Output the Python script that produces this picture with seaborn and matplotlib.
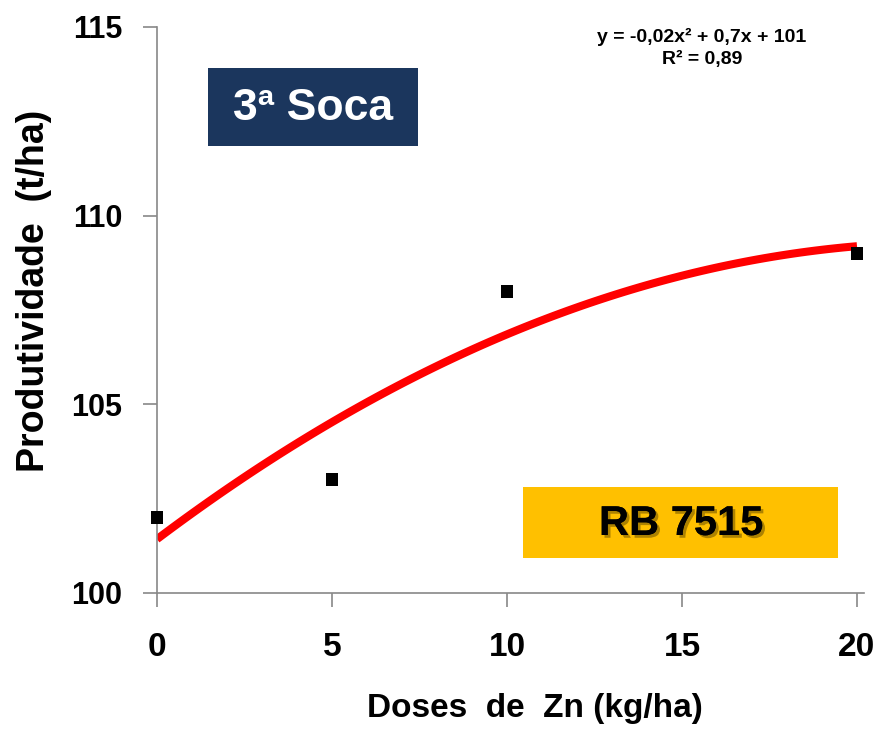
import matplotlib
matplotlib.use("Agg")
import matplotlib.pyplot as plt
import matplotlib.patheffects as pe
import pandas as pd
import seaborn as sns

# Zinc doses and sugarcane yield, 3rd ratoon, variety RB 7515
doses = [0, 5, 10, 20]
produtividade = [102, 103, 108, 109]
x_ticks = [0, 5, 10, 15, 20]
y_ticks = [100, 105, 110, 115]

df = pd.DataFrame({"dose": doses, "prod": produtividade})

sns.set_theme(style="white")
plt.rcParams["font.family"] = ["Liberation Sans", "DejaVu Sans"]
plt.rcParams["font.weight"] = "bold"

W, H = 885, 735
fig = plt.figure(figsize=(W / 100, H / 100), dpi=100)
ax = fig.add_axes([157 / W, 1 - 593 / H, 707 / W, (593 - 27) / H])

# Quadratic trend line
sns.regplot(data=df, x="dose", y="prod", order=2, ci=None, scatter=False,
            line_kws=dict(color="#ff0000", lw=5.8, solid_capstyle="butt"), ax=ax)
# Observed means
sns.scatterplot(data=df, x="dose", y="prod", marker="s", s=85, color="black",
                edgecolor="none", clip_on=False, zorder=5, ax=ax)

ax.set_xlim(0, 20.2)
ax.set_ylim(100, 115)
ax.set_xticks(x_ticks)
ax.set_yticks(y_ticks)
ax.set_xticklabels([str(v) for v in x_ticks], fontsize=24, fontweight="bold", color="black")
ax.set_yticklabels([str(v) for v in y_ticks], fontsize=22, fontweight="bold", color="black")
ax.tick_params(axis="x", bottom=True, direction="out", length=10, width=1.2,
               color="#888888", pad=18)
ax.tick_params(axis="y", left=True, direction="out", length=10, width=1.2,
               color="#888888", pad=15)

for side in ("top", "right"):
    ax.spines[side].set_visible(False)
for side in ("left", "bottom"):
    ax.spines[side].set_color("#888888")
    ax.spines[side].set_linewidth(1.2)

ax.set_xlabel("")
ax.set_ylabel("")
fig.text(535 / W, 1 - 717 / H, "Doses  de  Zn (kg/ha)", ha="center", va="baseline",
         fontsize=24, fontweight="bold", color="black")
fig.text(44 / W, 1 - 291 / H, "Produtividade  (t/ha)", ha="center", va="baseline",
         rotation=90, rotation_mode="anchor", fontsize=27, fontweight="bold", color="black")

# Regression equation
fig.text(702 / W, 1 - 37 / H, "y = -0,02x² + 0,7x + 101", ha="center", va="center",
         fontsize=14, fontweight="bold", color="black")
fig.text(702 / W, 1 - 59 / H, "R² = 0,89", ha="center", va="center",
         fontsize=14, fontweight="bold", color="black")

# Title boxes
fig.patches.append(plt.Rectangle((208 / W, 1 - 146 / H), 210 / W, 78 / H,
                                 transform=fig.transFigure, facecolor="#1b365d",
                                 edgecolor="none", zorder=3))
fig.text(313 / W, 1 - 108 / H, "3ª Soca", ha="center", va="center",
         fontsize=32, fontweight="bold", color="white", zorder=4)

fig.patches.append(plt.Rectangle((523 / W, 1 - 558 / H), 315 / W, 71 / H,
                                 transform=fig.transFigure, facecolor="#ffc000",
                                 edgecolor="none", zorder=3))
fig.text(681 / W, 1 - 524 / H, "RB 7515", ha="center", va="center",
         fontsize=30, fontweight="bold", color="black", zorder=4,
         path_effects=[pe.withSimplePatchShadow(offset=(2, -2), shadow_rgbFace="#6b5000",
                                                alpha=0.55), pe.Normal()])

fig.savefig("out.png", dpi=100)
